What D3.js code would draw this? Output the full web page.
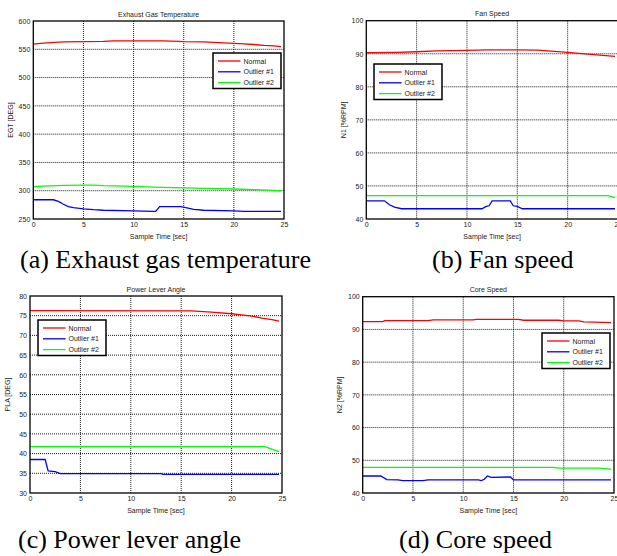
<!DOCTYPE html>
<html>
<head>
<meta charset="utf-8">
<script src="https://cdn.jsdelivr.net/npm/d3@7"></script>
<style>
  body { margin: 0; background: #fff; }
  svg { display: block; }
  text { font-family: "Liberation Sans", Arial, sans-serif; }
  text.caption { font-family: "Liberation Serif", "Times New Roman", serif; }
</style>
</head>
<body>
<div id="chart"></div>
<script>
// shared
const timeTicks = [0, 5, 10, 15, 20, 25];
const seriesNames = ["Normal", "Outlier #1", "Outlier #2"];
const seriesColors = ["#ff0000", "#0000ff", "#00ff00"];

// (a) exhaust gas temperature, [time, value]
const egtTicks = [250, 300, 350, 400, 450, 500, 550, 600];
const egtNormal = [[0,559],[1,561],[3,563],[5,563.5],[7,564],[8,565],[10,565],[13,565],[14.5,564],[15,563.5],[17,563],[19,561.5],[20,560.5],[21,559.5],[22,558.5],[23,557],[24,556],[24.7,554.6]];
const egtOutlier1 = [[0,284],[2,284],[2.5,281],[3,276],[3.5,272],[4,270],[5,268],[6,266.5],[7,265.5],[10,264.5],[12,263.5],[12.2,263.5],[12.6,272],[14.7,272],[15.2,270],[16,267],[17,265.5],[20,264.5],[21,263.5],[24.7,263.5]];
const egtOutlier2 = [[0,307],[1,308],[3,309.5],[5,310],[6,310],[7,309],[10,307.5],[12,306.5],[15,305],[17,304],[20,303],[22,302],[24,300.5],[24.7,299.5]];

// (b) fan speed
const fanTicks = [40, 50, 60, 70, 80, 90, 100];
const fanNormal = [[0,90.3],[3,90.4],[5,90.6],[7,90.9],[10,91.0],[12,91.2],[15,91.15],[17,91.1],[18,90.9],[20,90.4],[22,89.9],[23.5,89.5],[24.7,89.2]];
const fanOutlier1 = [[0,45.5],[1.8,45.5],[2.3,44.3],[2.8,43.6],[3.5,43.1],[11.5,43.1],[11.9,43.8],[12.2,44.0],[12.5,45.5],[14.3,45.5],[14.6,44.0],[15.0,43.8],[15.5,43.1],[24.7,43.1]];
const fanOutlier2 = [[0,47.05],[24,47.05],[24.7,46.5]];

// (c) power lever angle
const plaTicks = [30, 35, 40, 45, 50, 55, 60, 65, 70, 75, 80];
const plaNormal = [[0,76.3],[16,76.2],[18,75.9],[20,75.5],[21,75.2],[22,74.9],[23,74.4],[24,74.0],[24.7,73.6]];
const plaOutlier1 = [[0,38.5],[1.5,38.5],[1.8,35.6],[2.5,35.4],[3,34.9],[13,34.9],[13.2,34.75],[24.7,34.75]];
const plaOutlier2 = [[0,41.75],[23.3,41.75],[24.7,40.5]];

// (d) core speed
const coreTicks = [40, 50, 60, 70, 80, 90, 100];
const coreNormal = [[0,92.4],[2,92.4],[2.2,92.7],[6.5,92.7],[7,92.9],[11,92.9],[11.3,93.1],[15.5,93.1],[16,92.8],[19.5,92.8],[20,92.6],[21.5,92.6],[22,92.3],[23,92.2],[24.7,92.1]];
const coreOutlier1 = [[0,45.2],[1.8,45.2],[2.4,44.1],[3.5,44.0],[4,43.8],[6,43.8],[6.5,44.0],[11.5,44.0],[11.8,43.8],[12.1,44.2],[12.4,45.2],[12.8,44.8],[14.7,44.9],[15,44.0],[24.7,44.0]];
const coreOutlier2 = [[0,47.85],[19,47.85],[19.5,47.6],[23.5,47.6],[24.7,47.3]];

const panels = [
  {title: "Exhaust Gas Temperature", ylabel: "EGT [DEG]", caption: "(a) Exhaust gas temperature",
   yTicks: egtTicks, series: [egtNormal, egtOutlier1, egtOutlier2],
   box: [33.3, 21, 284, 219], legend: [213, 53], cap: [20, 268]},
  {title: "Fan Speed", ylabel: "N1 [%RPM]", caption: "(b) Fan speed",
   yTicks: fanTicks, series: [fanNormal, fanOutlier1, fanOutlier2],
   box: [366.3, 20.7, 618, 219], legend: [374, 64], cap: [432, 268]},
  {title: "Power Lever Angle", ylabel: "PLA [DEG]", caption: "(c) Power lever angle",
   yTicks: plaTicks, series: [plaNormal, plaOutlier1, plaOutlier2],
   box: [30, 296, 282, 493], legend: [38, 320], cap: [18, 548]},
  {title: "Core Speed", ylabel: "N2 [%RPM]", caption: "(d) Core speed",
   yTicks: coreTicks, series: [coreNormal, coreOutlier1, coreOutlier2],
   box: [362.7, 296.7, 614, 493], legend: [542, 333], cap: [399, 548]}
];

const svg = d3.select("#chart").append("svg")
  .attr("width", 617).attr("height", 556);

panels.forEach(p => {
  const [x0, y0, x1, y1] = p.box;
  const x = d3.scaleLinear().domain([0, 25]).range([x0, x1]);
  const y = d3.scaleLinear().domain(d3.extent(p.yTicks)).range([y1, y0]);
  const g = svg.append("g");

  // dotted grid
  g.append("g").selectAll("line").data(timeTicks.slice(1, -1)).join("line")
    .attr("x1", d => x(d)).attr("x2", d => x(d)).attr("y1", y0).attr("y2", y1)
    .attr("stroke", "#000").attr("stroke-width", 0.9).attr("stroke-dasharray", "1,1");
  g.append("g").selectAll("line").data(p.yTicks.slice(1, -1)).join("line")
    .attr("y1", d => y(d)).attr("y2", d => y(d)).attr("x1", x0).attr("x2", x1)
    .attr("stroke", "#000").attr("stroke-width", 0.9).attr("stroke-dasharray", "1,1");

  // tick labels via axes
  const xAxis = g.append("g").attr("transform", `translate(0,${y1})`)
    .call(d3.axisBottom(x).tickValues(timeTicks).tickSize(0).tickPadding(3));
  const yAxis = g.append("g").attr("transform", `translate(${x0},0)`)
    .call(d3.axisLeft(y).tickValues(p.yTicks).tickSize(0).tickPadding(3));
  [xAxis, yAxis].forEach(a => {
    a.select(".domain").remove();
    a.selectAll("text").attr("font-size", 7).attr("fill", "#222");
  });

  // series
  const line = d3.line().x(d => x(d[0])).y(d => y(d[1]));
  p.series.forEach((s, i) => {
    g.append("path").datum(s).attr("d", line)
      .attr("fill", "none").attr("stroke", seriesColors[i]).attr("stroke-width", 1.3);
  });

  // axes box
  g.append("rect").attr("x", x0).attr("y", y0).attr("width", x1 - x0).attr("height", y1 - y0)
    .attr("fill", "none").attr("stroke", "#000").attr("stroke-width", 1.3);

  // titles and labels
  g.append("text").attr("x", (x0 + x1) / 2).attr("y", y0 - 4.5).attr("text-anchor", "middle")
    .attr("font-size", 7).attr("fill", "#222").text(p.title);
  g.append("text").attr("x", (x0 + x1) / 2).attr("y", y1 + 19.5).attr("text-anchor", "middle")
    .attr("font-size", 7).attr("fill", "#222").text("Sample Time [sec]");
  g.append("text").attr("transform", `translate(${x0 - 20.5},${(y0 + y1) / 2}) rotate(-90)`)
    .attr("text-anchor", "middle").attr("font-size", 7).attr("fill", "#222").text(p.ylabel);

  // legend
  const [lx, ly] = p.legend;
  const lg = g.append("g").attr("transform", `translate(${lx},${ly})`);
  lg.append("rect").attr("width", 68).attr("height", 35.5)
    .attr("fill", "#fff").attr("stroke", "#000").attr("stroke-width", 1.5);
  seriesNames.forEach((n, i) => {
    const yy = 8 + i * 10.8;
    lg.append("line").attr("x1", 5).attr("x2", 27.5).attr("y1", yy).attr("y2", yy)
      .attr("stroke", seriesColors[i]).attr("stroke-width", 1.3);
    lg.append("text").attr("x", 30.5).attr("y", yy + 2.5).attr("font-size", 7)
      .attr("fill", "#222").text(n);
  });

  // caption
  svg.append("text").attr("class", "caption").attr("x", p.cap[0]).attr("y", p.cap[1])
    .attr("font-size", 26).attr("fill", "#000").text(p.caption);
});
</script>
</body>
</html>
